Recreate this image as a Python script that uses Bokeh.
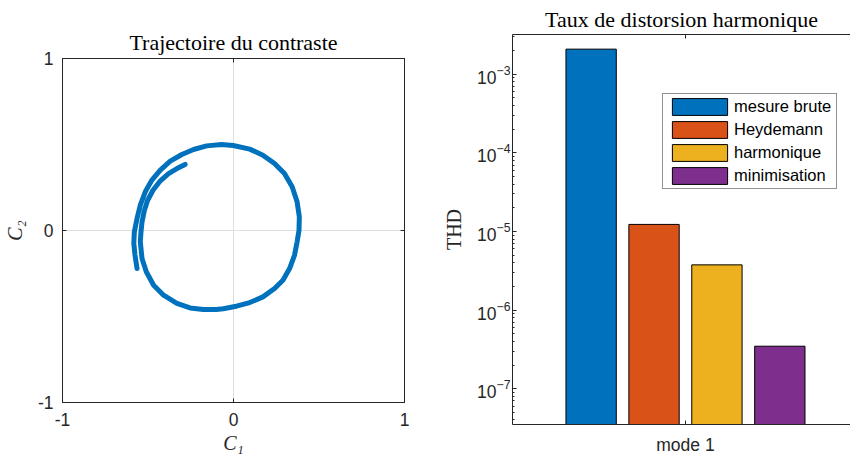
from bokeh.plotting import figure
from bokeh.layouts import row
from bokeh.models import (Range1d, FixedTicker, LinearAxis, CustomJSTickFormatter,
                          ColumnDataSource, LogTicker, Title)
from bokeh.embed import file_html
from bokeh.resources import INLINE

# ---------------- data ----------------
# contrast trajectory (C1, C2)
c1 = [-0.564, -0.576, -0.583, -0.580, -0.564, -0.545, -0.516, -0.477, -0.428, -0.370,
      -0.302, -0.234, -0.157, -0.070, -0.002, 0.095, 0.172, 0.240, 0.298, 0.343,
      0.372, 0.385, 0.383, 0.372, 0.357, 0.328, 0.289, 0.240, 0.172, 0.095,
      0.017, -0.060, -0.100, -0.176, -0.254, -0.331, -0.409, -0.467, -0.510, -0.535,
      -0.545, -0.541, -0.535, -0.521, -0.502, -0.471, -0.428, -0.380, -0.331, -0.283]
c2 = [-0.221, -0.143, -0.076, -0.008, 0.070, 0.147, 0.225, 0.293, 0.351, 0.403,
      0.442, 0.471, 0.492, 0.500, 0.494, 0.473, 0.438, 0.390, 0.331, 0.254,
      0.167, 0.079, 0.000, -0.066, -0.143, -0.221, -0.289, -0.337, -0.386, -0.419,
      -0.440, -0.455, -0.459, -0.459, -0.450, -0.424, -0.376, -0.318, -0.240, -0.163,
      -0.066, -0.008, 0.050, 0.118, 0.176, 0.234, 0.289, 0.331, 0.360, 0.384]
traj_ticks = [-1, 0, 1]
traj_tick_labels = ["-1", "0", "1"]

# harmonic distortion
modes = ["mode 1"]
methods = ["mesure brute", "Heydemann", "harmonique", "minimisation"]
thd = [2.09e-3, 1.23e-5, 3.76e-6, 3.47e-7]
colors = ["#0072BD", "#D95319", "#EDB120", "#7E2F8E"]

# ---------------- style ----------------
AX = "#262626"
SANS = "Liberation Sans"
SERIF = "Liberation Serif"
TICK_FS = "17.5px"


def style_axis(ax, labels=True):
    ax.axis_line_color = AX
    ax.major_tick_line_color = AX
    ax.minor_tick_line_color = None
    ax.major_tick_in = 4
    ax.major_tick_out = 0
    ax.major_label_text_font = SANS
    ax.major_label_text_font_size = TICK_FS
    ax.major_label_text_color = AX
    ax.axis_label_text_font = SERIF
    ax.axis_label_text_font_size = "20px"
    ax.axis_label_text_font_style = "italic"
    ax.axis_label_text_color = AX
    if not labels:
        ax.formatter = CustomJSTickFormatter(code="return ''")
        ax.major_label_text_font_size = "0px"
        ax.major_label_standoff = 0


def make_title(text, standoff, offset=0):
    return Title(text=text, align="center", text_font=SERIF, text_font_size="22px",
                 text_font_style="normal", text_color="black", standoff=standoff,
                 offset=offset)


# ---------------- left: trajectory ----------------
p1 = figure(width=424, height=457, x_range=Range1d(-1, 1), y_range=Range1d(-1, 1),
            output_backend="svg", toolbar_location=None, title=None,
            min_border_left=60, min_border_right=20, min_border_top=58, min_border_bottom=55)
p1.frame_align = False
p1.outline_line_color = AX
p1.background_fill_color = "white"
p1.border_fill_color = "white"

for g in (p1.xgrid[0], p1.ygrid[0]):
    g.ticker = FixedTicker(ticks=traj_ticks)
    g.grid_line_color = "#dfdfdf"
    g.grid_line_width = 1

overrides = dict(zip(traj_ticks, traj_tick_labels))
for ax in p1.xaxis + p1.yaxis:
    style_axis(ax)
    ax.ticker = FixedTicker(ticks=traj_ticks)
    ax.major_label_overrides = overrides
p1.xaxis.major_label_standoff = 10
p1.yaxis.major_label_standoff = 9
p1.xaxis.axis_label = "C\u2081"
p1.yaxis.axis_label = "C\u2082"
p1.xaxis.axis_label_standoff = 3
p1.yaxis.axis_label_standoff = 9

top1 = LinearAxis(ticker=FixedTicker(ticks=traj_ticks))
right1 = LinearAxis(ticker=FixedTicker(ticks=traj_ticks))
style_axis(top1, labels=False)
style_axis(right1, labels=False)
p1.add_layout(top1, "above")
p1.add_layout(right1, "right")
p1.add_layout(make_title("Trajectoire du contraste", 7), "above")

p1.line(c1, c2, line_width=5, line_color="#0072BD", line_join="round", line_cap="round")

# ---------------- right: THD bars ----------------
group_x = 1.0
n = len(methods)
group_width = min(0.8, n / (n + 1.5))
bar_step = group_width / n
bar_w = bar_step * 0.8
xs = [group_x + (i - (n - 1) / 2) * bar_step for i in range(n)]
src = ColumnDataSource(dict(x=xs, top=thd, method=methods, color=colors))

p2 = figure(width=426, height=457, x_range=Range1d(0.5, 1.477),
            y_range=Range1d(3.5e-8, 3.21e-3), y_axis_type="log",
            output_backend="svg", toolbar_location=None, title=None,
            min_border_left=88, min_border_right=0, min_border_top=34, min_border_bottom=31)
p2.frame_align = False
p2.outline_line_color = None
p2.background_fill_color = "white"
p2.border_fill_color = "white"
p2.xgrid.visible = False
p2.ygrid.visible = False

p2.vbar(x="x", top="top", bottom=1e-9, width=bar_w, source=src,
        fill_color="color", line_color="black", line_width=1, legend_field="method")

for ax in p2.xaxis + p2.yaxis:
    style_axis(ax)
p2.xaxis.ticker = FixedTicker(ticks=[group_x])
p2.xaxis.major_label_overrides = {group_x: modes[0]}
p2.xaxis.major_label_standoff = 10
p2.yaxis.ticker = LogTicker(num_minor_ticks=10)
p2.yaxis.minor_tick_line_color = AX
p2.yaxis.minor_tick_in = 2
p2.yaxis.minor_tick_out = 0
p2.yaxis.major_label_standoff = 2
p2.yaxis.axis_label = "THD"
p2.yaxis.axis_label_text_font_style = "normal"
p2.yaxis.axis_label_standoff = 9

top2 = LinearAxis(ticker=FixedTicker(ticks=[group_x]))
style_axis(top2, labels=False)
p2.add_layout(top2, "above")
p2.add_layout(make_title("Taux de distorsion harmonique", 5, offset=4), "above")

lg = p2.legend[0]
lg.location = (150, 235)
lg.border_line_color = AX
lg.border_line_width = 1
lg.background_fill_color = "white"
lg.background_fill_alpha = 1
lg.label_text_font = SANS
lg.label_text_font_size = "16.5px"
lg.label_text_color = "black"
lg.glyph_width = 69
lg.glyph_height = 21
lg.label_height = 21
lg.label_width = 100
lg.spacing = 2
lg.padding = 2
lg.label_standoff = -2
lg.margin = 0

layout = row(p1, p2)
open("out.html", "w").write(file_html(layout, INLINE))
